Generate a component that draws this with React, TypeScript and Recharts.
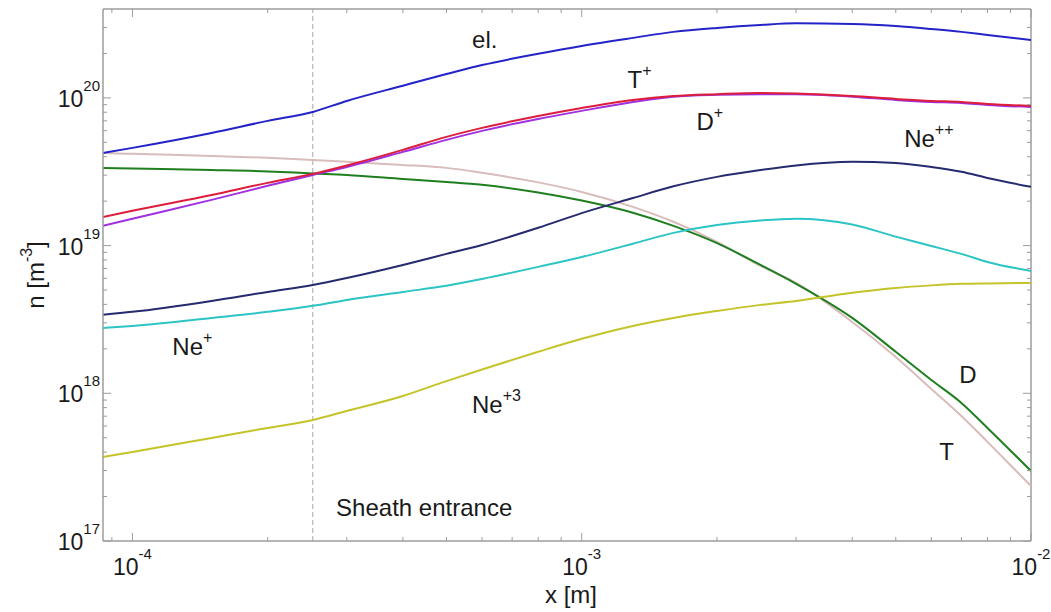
import React from 'react';
import { LineChart, Line, XAxis, YAxis, ReferenceLine, ReferenceDot } from 'recharts';

document.body.style.margin = '0';

const xPos = [8.6e-5, 1e-4, 1.5e-4, 2e-4, 2.52e-4, 3e-4, 4e-4, 5e-4, 6e-4, 8e-4, 1e-3, 1.3e-3, 1.6e-3, 2e-3, 2.5e-3, 3e-3, 4e-3, 5e-3, 6e-3, 7e-3, 8e-3, 1e-2];

// densities n [m^-3]
const electrons = [4.24e19, 4.59e19, 5.79e19, 6.99e19, 8.04e19, 9.54e19, 1.21e20, 1.45e20, 1.67e20, 1.99e20, 2.25e20, 2.55e20, 2.8e20, 2.98e20, 3.12e20, 3.2e20, 3.17e20, 3.07e20, 2.93e20, 2.8e20, 2.67e20, 2.47e20];
const tritiumIon = [1.56e19, 1.72e19, 2.2e19, 2.66e19, 3.06e19, 3.49e19, 4.45e19, 5.45e19, 6.27e19, 7.55e19, 8.56e19, 9.69e19, 1.03e20, 1.06e20, 1.08e20, 1.07e20, 1.03e20, 9.84e19, 9.54e19, 9.39e19, 9.11e19, 8.83e19];
const deuteriumIon = [1.36e19, 1.52e19, 2.04e19, 2.54e19, 3.01e19, 3.41e19, 4.31e19, 5.2e19, 5.98e19, 7.21e19, 8.17e19, 9.39e19, 1.02e20, 1.05e20, 1.06e20, 1.06e20, 1.02e20, 9.69e19, 9.39e19, 9.25e19, 8.97e19, 8.69e19];
const tritium = [4.24e19, 4.18e19, 4.05e19, 3.93e19, 3.8e19, 3.69e19, 3.52e19, 3.36e19, 3.11e19, 2.68e19, 2.31e19, 1.83e19, 1.45e19, 1.06e19, 7.29e18, 5.59e18, 3.04e18, 1.76e18, 1.07e18, 7.03e17, 4.69e17, 2.36e17];
const deuterium = [3.36e19, 3.33e19, 3.25e19, 3.18e19, 3.08e19, 3.01e19, 2.83e19, 2.7e19, 2.58e19, 2.29e19, 2.02e19, 1.67e19, 1.36e19, 1.04e19, 7.4e18, 5.51e18, 3.24e18, 1.91e18, 1.23e18, 8.61e17, 5.83e17, 2.98e17];
const neon2 = [3.4e18, 3.56e18, 4.22e18, 4.86e18, 5.42e18, 6.04e18, 7.4e18, 8.79e18, 1.01e19, 1.32e19, 1.66e19, 2.1e19, 2.52e19, 2.92e19, 3.25e19, 3.49e19, 3.69e19, 3.63e19, 3.41e19, 3.16e19, 2.87e19, 2.5e19];
const neon1 = [2.77e18, 2.86e18, 3.24e18, 3.56e18, 3.91e18, 4.29e18, 4.86e18, 5.34e18, 5.95e18, 7.18e18, 8.38e18, 1.03e19, 1.22e19, 1.38e19, 1.48e19, 1.52e19, 1.39e19, 1.15e19, 9.95e18, 8.79e18, 7.75e18, 6.74e18];
const neon3 = [3.71e17, 4.01e17, 4.99e17, 5.83e17, 6.6e17, 7.6e17, 9.6e17, 1.21e18, 1.45e18, 1.91e18, 2.34e18, 2.86e18, 3.24e18, 3.61e18, 3.97e18, 4.22e18, 4.79e18, 5.17e18, 5.38e18, 5.51e18, 5.55e18, 5.59e18];

const xTicks = [9e-5, 1e-4, 2e-4, 3e-4, 4e-4, 5e-4, 6e-4, 7e-4, 8e-4, 9e-4, 1e-3, 2e-3, 3e-3, 4e-3, 5e-3, 6e-3, 7e-3, 8e-3, 9e-3, 1e-2];
const yTicks = [1e17, 2e17, 3e17, 4e17, 5e17, 6e17, 7e17, 8e17, 9e17, 1e18, 2e18, 3e18, 4e18, 5e18, 6e18, 7e18, 8e18, 9e18, 1e19, 2e19, 3e19, 4e19, 5e19, 6e19, 7e19, 8e19, 9e19, 1e20, 2e20, 3e20];

const sheathX = 2.52e-4;

// text annotations, anchored at left end of the baseline
const notes = [
  { x: 5.7e-4, y: 2.18e20, text: 'el.', sup: '' },
  { x: 1.265e-3, y: 1.17e20, text: 'T', sup: '+' },
  { x: 1.8e-3, y: 6.07e19, text: 'D', sup: '+' },
  { x: 5.22e-3, y: 4.66e19, text: 'Ne', sup: '++' },
  { x: 1.227e-4, y: 1.82e18, text: 'Ne', sup: '+' },
  { x: 5.7e-4, y: 7.37e17, text: 'Ne', sup: '+3' },
  { x: 6.92e-3, y: 1.176e18, text: 'D', sup: '' },
  { x: 6.25e-3, y: 3.54e17, text: 'T', sup: '' },
  { x: 2.84e-4, y: 1.48e17, text: 'Sheath entrance', sup: '' },
];

const data = xPos.map((x, i) => ({
  x,
  el: electrons[i],
  tIon: tritiumIon[i],
  dIon: deuteriumIon[i],
  t: tritium[i],
  d: deuterium[i],
  ne1: neon1[i],
  ne2: neon2[i],
  ne3: neon3[i],
}));

const FONT = '"Liberation Sans", Arial, Helvetica, sans-serif';
const INK = '#1a1a1a';
const GREY = '#9c9c9c';
const PLOT_TOP = 9;
const PLOT_RIGHT = 1031;

const isDecade = (v: number) => Math.abs(Math.log10(v) - Math.round(Math.log10(v))) < 1e-6;

function XTick({ x, y, payload }: any) {
  const v = payload.value;
  const major = isDecade(v);
  const len = major ? 8 : 4;
  return (
    <g>
      <line x1={x} x2={x} y1={y} y2={y - len} stroke={GREY} />
      <line x1={x} x2={x} y1={PLOT_TOP} y2={PLOT_TOP + len} stroke={GREY} />
      {major && (
        <text x={x} y={y + 34} textAnchor="middle" fontFamily={FONT} fill={INK}>
          <tspan fontSize={23}>10</tspan>
          <tspan fontSize={15} dy={-16}>{Math.round(Math.log10(v))}</tspan>
        </text>
      )}
    </g>
  );
}

function YTick({ x, y, payload }: any) {
  const v = payload.value;
  const major = isDecade(v);
  const len = major ? 8 : 4;
  return (
    <g>
      <line x1={x} x2={x + len} y1={y} y2={y} stroke={GREY} />
      <line x1={PLOT_RIGHT - len} x2={PLOT_RIGHT} y1={y} y2={y} stroke={GREY} />
      {major && (
        <text x={x - 3} y={y + 9} textAnchor="end" fontFamily={FONT} fill={INK}>
          <tspan fontSize={23}>10</tspan>
          <tspan fontSize={15} dy={-16}>{Math.round(Math.log10(v))}</tspan>
        </text>
      )}
    </g>
  );
}

const noteLabel = (text: string, sup: string) => (props: any) => {
  const { x, y } = props.viewBox;
  return (
    <text x={x} y={y} fontFamily={FONT} fontSize={24} fill={INK}>
      <tspan>{text}</tspan>
      {sup && <tspan fontSize={16} dy={-12}>{sup}</tspan>}
    </text>
  );
};

const yLabel = (props: any) => {
  const vb = props.viewBox;
  const cx = vb.x + 44;
  const cy = vb.y + vb.height / 2;
  return (
    <text x={cx} y={cy} transform={`rotate(-90 ${cx} ${cy})`} textAnchor="middle" fontFamily={FONT} fontSize={24} fill={INK}>
      <tspan>n [m</tspan>
      <tspan fontSize={16} dy={-12}>-3</tspan>
      <tspan dy={12}>]</tspan>
    </text>
  );
};

const xLabel = (props: any) => {
  const vb = props.viewBox;
  return (
    <text x={vb.x + vb.width / 2 + 4} y={vb.y + 62} textAnchor="middle" fontFamily={FONT} fontSize={24} fill={INK}>
      x [m]
    </text>
  );
};

export default function App() {
  return (
    <LineChart width={1051} height={612} data={data} margin={{ top: PLOT_TOP, right: 20, bottom: 0, left: 0 }}>
      <XAxis
        dataKey="x"
        type="number"
        scale="log"
        domain={[8.6e-5, 1e-2]}
        allowDataOverflow
        ticks={xTicks}
        interval={0}
        tick={<XTick />}
        tickLine={false}
        tickSize={0}
        tickMargin={0}
        height={71}
        axisLine={{ stroke: GREY, strokeWidth: 1.5 }}
        label={xLabel}
      />
      <YAxis
        type="number"
        scale="log"
        domain={[1e17, 4e20]}
        allowDataOverflow
        ticks={yTicks}
        interval={0}
        tick={<YTick />}
        tickLine={false}
        tickSize={0}
        tickMargin={0}
        width={103}
        axisLine={{ stroke: GREY, strokeWidth: 1.5 }}
        label={yLabel}
      />
      <ReferenceLine y={4e20} stroke={GREY} strokeWidth={1.5} ifOverflow="visible" />
      <ReferenceLine x={1e-2} stroke={GREY} strokeWidth={1.5} ifOverflow="visible" />
      <ReferenceLine x={sheathX} stroke="#a8a8a8" strokeDasharray="5 3" />

      <Line dataKey="t" type="monotone" stroke="#d9bcbc" strokeWidth={2} dot={false} activeDot={false} isAnimationActive={false} />
      <Line dataKey="d" type="monotone" stroke="#1f7f1f" strokeWidth={2} dot={false} activeDot={false} isAnimationActive={false} />
      <Line dataKey="dIon" type="monotone" stroke="#a030e0" strokeWidth={2} dot={false} activeDot={false} isAnimationActive={false} />
      <Line dataKey="tIon" type="monotone" stroke="#dc1e3c" strokeWidth={2} dot={false} activeDot={false} isAnimationActive={false} />
      <Line dataKey="ne1" type="monotone" stroke="#2cc4c4" strokeWidth={2} dot={false} activeDot={false} isAnimationActive={false} />
      <Line dataKey="ne2" type="monotone" stroke="#262a6e" strokeWidth={2} dot={false} activeDot={false} isAnimationActive={false} />
      <Line dataKey="ne3" type="monotone" stroke="#c4c42a" strokeWidth={2} dot={false} activeDot={false} isAnimationActive={false} />
      <Line dataKey="el" type="monotone" stroke="#2323c8" strokeWidth={2} dot={false} activeDot={false} isAnimationActive={false} />

      {notes.map((n, i) => (
        <ReferenceDot key={i} x={n.x} y={n.y} r={0} fill="none" stroke="none" label={noteLabel(n.text, n.sup)} />
      ))}
    </LineChart>
  );
}
